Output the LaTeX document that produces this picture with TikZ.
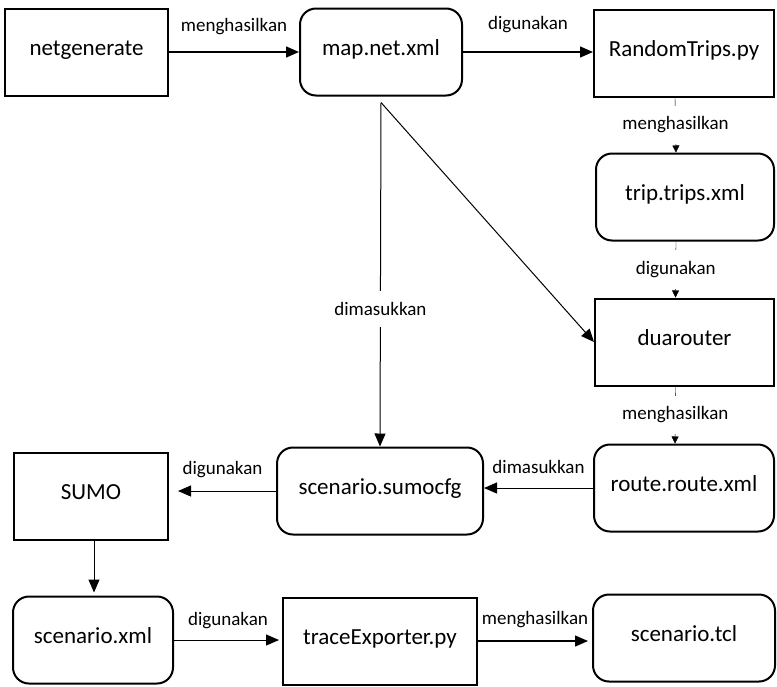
\documentclass[tikz,border=0pt]{standalone}
\usepackage{fontspec}
\setmainfont{Carlito}
\usetikzlibrary{arrows.meta}

\begin{document}
\begin{tikzpicture}[x=1pt, y=-1pt,
    box/.style={rectangle, draw, line width=2pt, minimum width=#1, minimum height=87pt, inner sep=0pt, text height=16pt, text depth=10pt, font=\fontsize{23}{27}\selectfont},
    box/.default=180pt,
    rbox/.style={box=#1, rounded corners=16pt},
    lbl/.style={inner sep=0pt, font=\fontsize{19}{22}\selectfont},
    vlbl/.style={lbl, fill=white, inner xsep=3pt, inner ysep=11pt},
    flow/.style={-{Triangle[length=13pt, width=11pt]}, line width=1.4pt},
    thinflow/.style={-{Triangle[length=7pt, width=7pt]}, line width=0.4pt}
]
\fill[white] (0,0) rectangle (777,686);
\useasboundingbox (0,0) rectangle (777,686);

\node[box=163pt] (netgen) at (86.5,52) {netgenerate};
\node[rbox=162pt] (map) at (381,52) {map.net.xml};
\node[box=180pt] (rtrips) at (684,53) {RandomTrips.py};
\node[rbox=178pt] (trips) at (685,197) {trip.trips.xml};
\node[box=179pt] (duar) at (684.5,342) {duarouter};
\node[rbox=180pt] (route) at (684,488) {route.route.xml};
\node[rbox=206pt] (cfg) at (380,491) {scenario.sumocfg};
\node[box=154pt] (sumo) at (91,496) {SUMO};
\node[rbox=160pt] (scen) at (93,640) {scenario.xml};
\node[box=194pt] (trace) at (380,641) {traceExporter.py};
\node[rbox=182pt] (tcl) at (684,638) {scenario.tcl};

\coordinate (mapout) at ([yshift=-6pt]map.south);

\draw[flow] (netgen.east) -- node[lbl, yshift=25pt] {menghasilkan} (netgen.east -| map.west);
\draw[flow] (map.east) -- node[lbl, yshift=27pt] {digunakan} (map.east -| rtrips.west);
\draw[thinflow] ([xshift=-9pt]rtrips.south) -- node[vlbl] {menghasilkan} ([xshift=-9pt]trips.north);
\draw[thinflow] ([xshift=-9pt]trips.south) -- node[vlbl] {digunakan} ([xshift=-9pt]duar.north);
\draw[thinflow] ([xshift=-9pt]duar.south) -- node[vlbl] {menghasilkan} ([xshift=-9pt]route.north);
\draw[flow, line width=1pt] (mapout) -- node[vlbl, pos=0.6] {dimasukkan} (cfg.north);
\draw[flow, line width=1pt] (mapout) -- (duar.west);
\draw[flow, line width=1pt] (route.west) -- node[lbl, yshift=21pt] {dimasukkan} (route.west -| cfg.east);
\draw[flow, line width=1pt, shorten >=9pt] (cfg.west) -- node[lbl, yshift=21pt] {digunakan} (cfg.west -| sumo.east);
\draw[flow, line width=1pt, shorten >=3pt] ([xshift=3pt]sumo.south) -- ([xshift=3pt]sumo.south |- scen.north);
\draw[flow, line width=1pt, shorten >=3pt] (scen.east) -- node[lbl, yshift=19pt] {digunakan} (scen.east -| trace.west);
\draw[flow, shorten >=4pt] (trace.east) -- node[lbl, yshift=21pt] {menghasilkan} (trace.east -| tcl.west);
\end{tikzpicture}
\end{document}
